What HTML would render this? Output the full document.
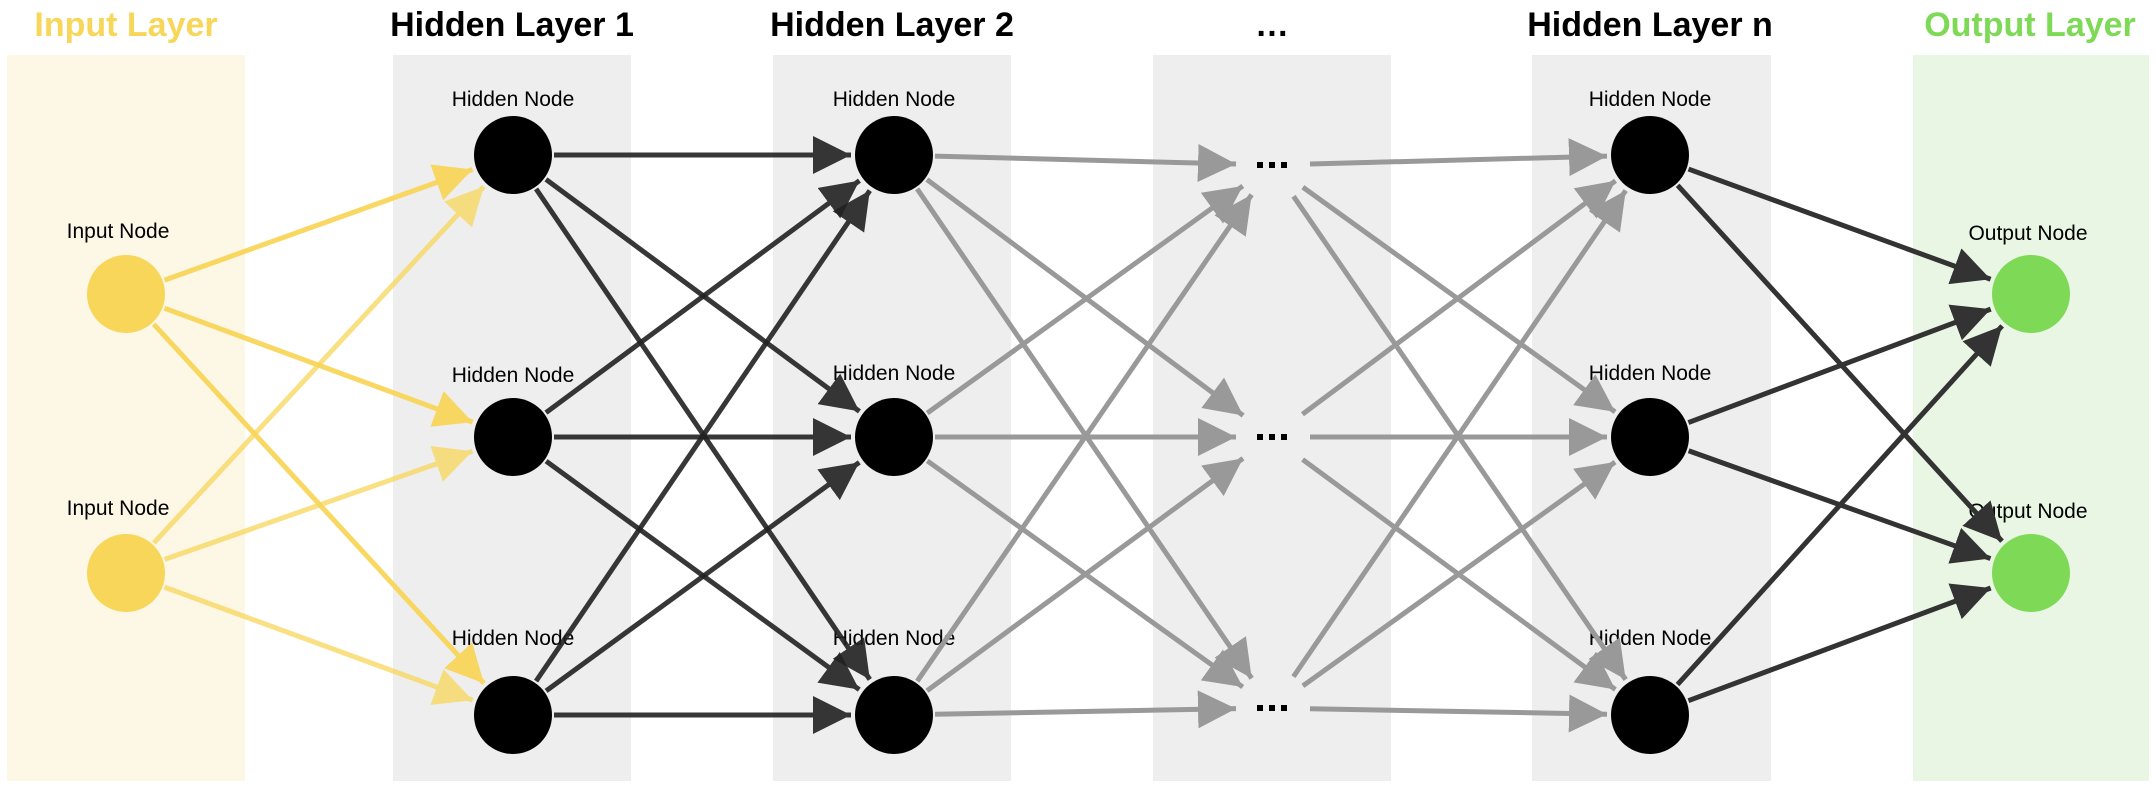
<!DOCTYPE html>
<html><head><meta charset="utf-8">
<style>
html,body{margin:0;padding:0;background:#fff;}
body{width:2156px;height:788px;position:relative;overflow:hidden;font-family:"Liberation Sans",Arial,sans-serif;}
.panel{position:absolute;top:55px;height:726px;}
.title{position:absolute;top:6px;font-weight:bold;font-size:34px;text-align:center;white-space:nowrap;}
.lbl{position:absolute;font-size:21px;text-align:center;width:200px;white-space:nowrap;}
svg{position:absolute;left:0;top:0;}
</style></head><body>
<div class="panel" style="left:7px;width:238px;background:#fdf7e6"></div>
<div class="panel" style="left:393px;width:238px;background:#eeeeee"></div>
<div class="panel" style="left:773px;width:238px;background:#eeeeee"></div>
<div class="panel" style="left:1153px;width:238px;background:#eeeeee"></div>
<div class="panel" style="left:1532px;width:239px;background:#eeeeee"></div>
<div class="panel" style="left:1913px;width:236px;background:#eaf6e4"></div>

<div class="title" style="left:26px;width:200px;color:#f8d65a">Input Layer</div>
<div class="title" style="left:362px;width:300px;color:#000">Hidden Layer 1</div>
<div class="title" style="left:742px;width:300px;color:#000">Hidden Layer 2</div>
<div class="title" style="left:1172px;width:200px;color:#000">…</div>
<div class="title" style="left:1500px;width:300px;color:#000">Hidden Layer n</div>
<div class="title" style="left:1880px;width:300px;color:#7ed957">Output Layer</div>

<div class="lbl" style="left:18px;top:220px">Input Node</div>
<div class="lbl" style="left:18px;top:497px">Input Node</div>
<div class="lbl" style="left:413px;top:88px">Hidden Node</div>
<div class="lbl" style="left:413px;top:364px">Hidden Node</div>
<div class="lbl" style="left:413px;top:627px">Hidden Node</div>
<div class="lbl" style="left:794px;top:88px">Hidden Node</div>
<div class="lbl" style="left:794px;top:362px">Hidden Node</div>
<div class="lbl" style="left:794px;top:627px">Hidden Node</div>
<div class="lbl" style="left:1550px;top:88px">Hidden Node</div>
<div class="lbl" style="left:1550px;top:362px">Hidden Node</div>
<div class="lbl" style="left:1550px;top:627px">Hidden Node</div>
<div class="lbl" style="left:1928px;top:222px">Output Node</div>
<div class="lbl" style="left:1928px;top:500px">Output Node</div>

<svg id="s" width="2156" height="788" viewBox="0 0 2156 788"></svg>
<script>
(function(){
var s=document.getElementById('s');
var out='<defs>';
var cols={y:'#f8d65a',k:'#222',g:'#999',d:'#333'};
for(var c in cols){out+='<marker id="m'+c+'" markerUnits="userSpaceOnUse" markerWidth="44" markerHeight="44" refX="38" refY="19" orient="auto"><path d="M0,0 L38,19 L0,38 Z" fill="'+cols[c]+'"/></marker>';}
out+='</defs>';
var R=39;
var inp=[[126,294],[126,573]];
var h1=[[513,155],[513,437],[513,715]];
var h2=[[894,155],[894,437],[894,715]];
var dt=[[1272,165],[1272,437],[1272,708]];
var hn=[[1650,155],[1650,437],[1650,715]];
var op=[[2031,294],[2031,573]];
function edge(a,b,ra,rb,c,op_){
 var dx=b[0]-a[0],dy=b[1]-a[1],L=Math.sqrt(dx*dx+dy*dy),ux=dx/L,uy=dy/L;
 var x1=a[0]+ux*ra,y1=a[1]+uy*ra,x2=b[0]-ux*rb,y2=b[1]-uy*rb;
 out+='<line x1="'+x1+'" y1="'+y1+'" x2="'+x2+'" y2="'+y2+'" stroke="'+cols[c]+'" stroke-width="5" marker-end="url(#m'+c+')" opacity="'+op_+'"/>';
}
function all(A,B,ra,rb,c,o){A.forEach(function(a,i){B.forEach(function(b){edge(a,b,ra,rb,c,(typeof o==='function')?o(i):o);});});}
all(inp,h1,R+2,R+4,'y',function(i){return i?0.75:0.95;});
all(h1,h2,R+2,R+4,'k',0.9);
all(h2,dt,R+2,36,'g',1);
all(dt,hn,38,R+4,'g',1);
all(hn,op,R+2,R+4,'d',1);
inp.forEach(function(p){out+='<circle cx="'+p[0]+'" cy="'+p[1]+'" r="'+R+'" fill="#f8d65a"/>';});
[h1,h2,hn].forEach(function(L){L.forEach(function(p){out+='<circle cx="'+p[0]+'" cy="'+p[1]+'" r="'+R+'" fill="#000"/>';});});
op.forEach(function(p){out+='<circle cx="'+p[0]+'" cy="'+p[1]+'" r="'+R+'" fill="#7ed957"/>';});
dt.forEach(function(p){out+='<rect x="'+(p[0]-20)+'" y="'+(p[1]-22)+'" width="40" height="30" fill="#eeeeee"/>';
 for(var k=0;k<3;k++)out+='<rect x="'+(p[0]-15+k*12)+'" y="'+(p[1]-3)+'" width="6" height="6" fill="#000"/>';});
s.innerHTML=out;
})();
</script>
</body></html>
